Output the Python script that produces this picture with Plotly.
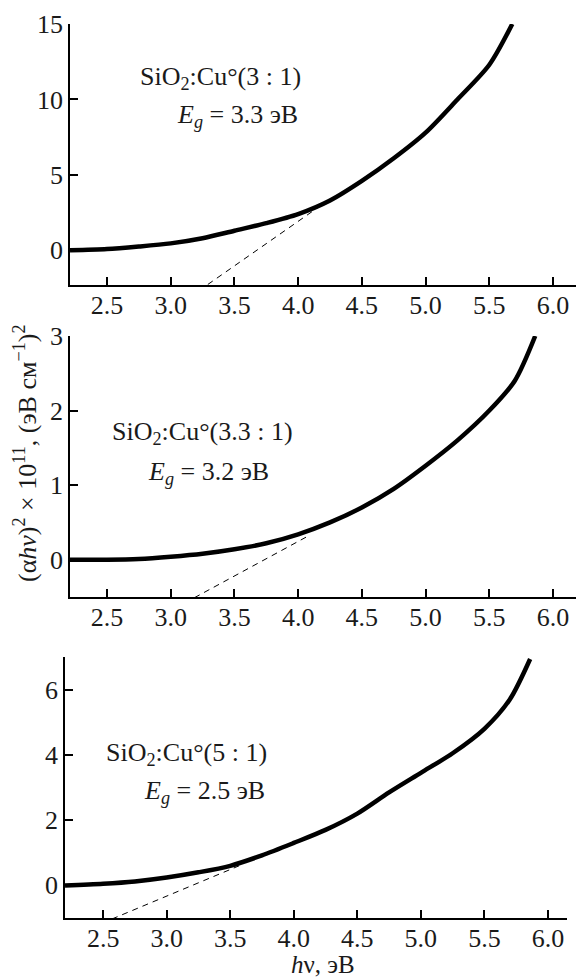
import plotly.graph_objects as go

# ---- data ----
x_top = [2.21, 2.5, 2.75, 3.0, 3.25, 3.5, 3.75, 4.0, 4.25, 4.5, 4.75, 5.0, 5.25, 5.5, 5.68]
y_top = [0.0, 0.08, 0.25, 0.46, 0.8, 1.3, 1.8, 2.4, 3.3, 4.6, 6.1, 7.8, 10.0, 12.3, 15.0]
fit_top_x = [3.15, 4.2]
fit_top_y = [-3.1, 3.1]

x_mid = [2.21, 2.5, 2.75, 3.0, 3.25, 3.5, 3.75, 4.0, 4.25, 4.5, 4.75, 5.0, 5.25, 5.5, 5.7, 5.86]
y_mid = [0.0, 0.0, 0.01, 0.04, 0.08, 0.14, 0.22, 0.34, 0.5, 0.70, 0.95, 1.26, 1.6, 2.0, 2.4, 3.0]
fit_mid_x = [3.11, 4.07]
fit_mid_y = [-0.58, 0.31]

x_bot = [2.2, 2.5, 2.75, 3.0, 3.25, 3.5, 3.75, 4.0, 4.25, 4.5, 4.75, 5.0, 5.25, 5.5, 5.7, 5.86]
y_bot = [0.0, 0.05, 0.12, 0.24, 0.4, 0.6, 0.92, 1.3, 1.7, 2.2, 2.85, 3.45, 4.05, 4.8, 5.7, 6.94]
fit_bot_x = [2.57, 3.57]
fit_bot_y = [-1.03, 0.6]

x_ticks = [2.5, 3.0, 3.5, 4.0, 4.5, 5.0, 5.5, 6.0]
y_ticks_top = [0, 5, 10, 15]
y_ticks_mid = [0, 1, 2, 3]
y_ticks_bot = [0, 2, 4, 6]

labels = [
    ("SiO<sub>2</sub>:Cu°(3 : 1)", "<i>E</i><sub><i>g</i></sub> = 3.3 эВ"),
    ("SiO<sub>2</sub>:Cu°(3.3 : 1)", "<i>E</i><sub><i>g</i></sub> = 3.2 эВ"),
    ("SiO<sub>2</sub>:Cu°(5 : 1)", "<i>E</i><sub><i>g</i></sub> = 2.5 эВ"),
]

FONT = "Liberation Serif"
FS = 26
TXT = "#1a1a1a"

fig = go.Figure()

panels = [
    (x_top, y_top, fit_top_x, fit_top_y, "x", "y"),
    (x_mid, y_mid, fit_mid_x, fit_mid_y, "x2", "y2"),
    (x_bot, y_bot, fit_bot_x, fit_bot_y, "x3", "y3"),
]
for xs, ys, fx, fy, xa, ya in panels:
    fig.add_trace(go.Scatter(x=fx, y=fy, mode="lines", xaxis=xa, yaxis=ya,
                             line=dict(color="black", width=1, dash="6px,5px"),
                             showlegend=False, hoverinfo="skip"))
    fig.add_trace(go.Scatter(x=xs, y=ys, mode="lines", xaxis=xa, yaxis=ya,
                             line=dict(color="black", width=4.5, shape="spline", smoothing=0.8),
                             showlegend=False))

W, H = 576, 978

def dom_x(l, r):
    return [l / W, r / W]

def dom_y(top, bottom):
    return [1 - bottom / H, 1 - top / H]

axis_common = dict(showline=True, linecolor="black", linewidth=1.5, ticks="inside",
                   ticklen=8, tickwidth=2, tickcolor="black", showgrid=False,
                   zeroline=False, mirror=False, automargin=False,
                   tickfont=dict(family=FONT, size=FS, color=TXT))

xaxes = [
    dict(domain=dom_x(70, 576), range=[2.21, 6.18], anchor="y"),
    dict(domain=dom_x(70, 576), range=[2.21, 6.18], anchor="y2"),
    dict(domain=dom_x(65, 567), range=[2.2, 6.15], anchor="y3"),
]
yaxes = [
    dict(domain=dom_y(24, 285), range=[-2.3, 15], tickvals=y_ticks_top, anchor="x"),
    dict(domain=dom_y(336, 597), range=[-0.5, 3], tickvals=y_ticks_mid, anchor="x2"),
    dict(domain=dom_y(657, 918), range=[-1, 7], tickvals=y_ticks_bot, anchor="x3"),
]

layout = dict(template="none", width=W, height=H, margin=dict(l=0, r=0, t=0, b=0, pad=0),
              paper_bgcolor="white", plot_bgcolor="white", showlegend=False,
              font=dict(family=FONT, size=FS, color=TXT))
for i, (xa, ya) in enumerate(zip(xaxes, yaxes)):
    sfx = "" if i == 0 else str(i + 1)
    layout["xaxis" + sfx] = dict(**axis_common, **xa, tickvals=x_ticks, tickformat=".1f",
                                 ticklabelstandoff=-4)
    layout["yaxis" + sfx] = dict(**axis_common, **ya)

fig.update_layout(**layout)

# text labels inside panels
ann_pos = [
    ((2.744, 11.4), (3.03, 8.9), "x", "y"),
    ((2.52, 1.70), (2.81, 1.16), "x2", "y2"),
    ((2.51, 4.03), (2.805, 2.85), "x3", "y3"),
]
for (l1, l2), (p1, p2, xr, yr) in zip(labels, ann_pos):
    fig.add_annotation(x=p1[0], y=p1[1], xref=xr, yref=yr, text=l1, showarrow=False,
                       xanchor="left", yanchor="middle", font=dict(family=FONT, size=FS, color=TXT))
    fig.add_annotation(x=p2[0], y=p2[1], xref=xr, yref=yr, text=l2, showarrow=False,
                       xanchor="left", yanchor="middle", font=dict(family=FONT, size=FS, color=TXT))

# axis titles
fig.add_annotation(x=323 / W, y=0, xref="paper", yref="paper",
                   text="<i>h</i>ν, эВ", showarrow=False, xanchor="center", yanchor="bottom",
                   yshift=-2, font=dict(family=FONT, size=25, color=TXT))
fig.add_annotation(x=25 / W, y=1 - 453 / H, xref="paper", yref="paper", textangle=-90,
                   text="(α<i>hv</i>)<sup>2</sup> × 10<sup>11</sup>, (эВ см<sup>−1</sup>)<sup>2</sup>",
                   showarrow=False, xanchor="center", yanchor="middle",
                   font=dict(family=FONT, size=FS, color=TXT))

fig.write_html("out.html")
